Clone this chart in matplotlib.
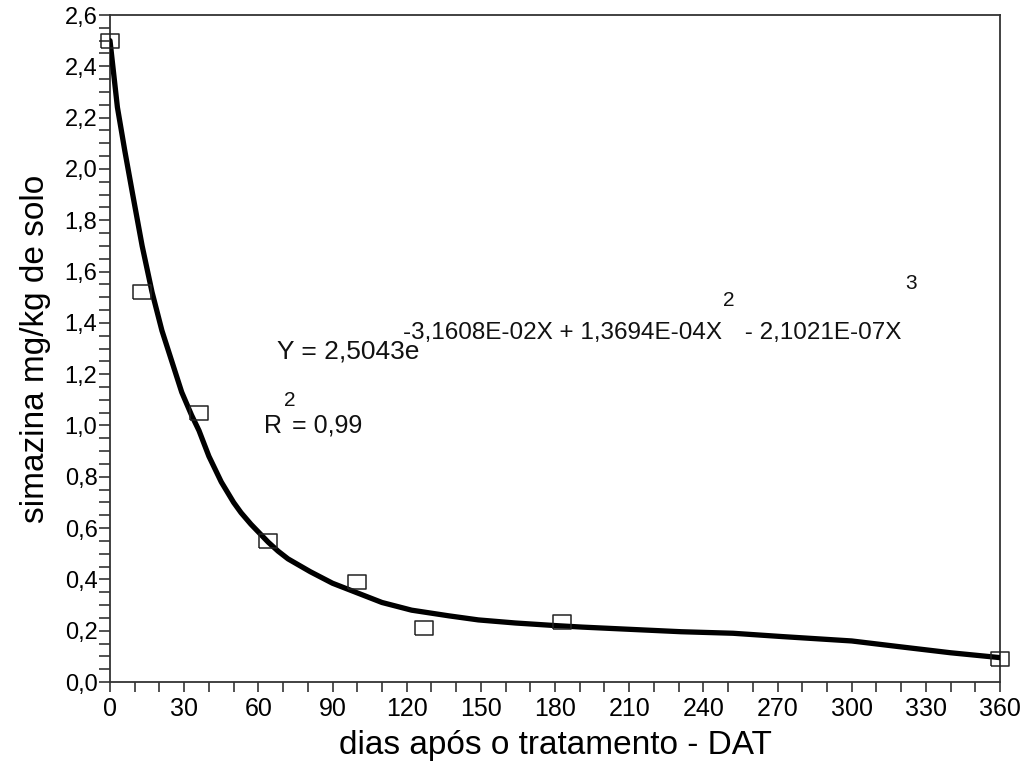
import matplotlib
matplotlib.use('Agg')
import matplotlib.pyplot as plt
from matplotlib.ticker import MultipleLocator, FuncFormatter

plt.rcParams['font.family'] = ['Liberation Sans', 'DejaVu Sans']

# observed points (days after treatment, simazine mg/kg soil)
obs_days = [0, 13, 36, 64, 100, 127, 183, 360]
obs_vals = [2.50, 1.52, 1.05, 0.55, 0.39, 0.21, 0.235, 0.09]

# fitted curve
fit_days = [0, 3, 6, 9, 13, 17, 21, 25, 29, 33, 36, 40, 45, 50, 53, 57, 60, 64, 68, 72,
            81, 90, 98, 110, 122, 137, 149, 164, 180, 191, 211, 231, 252, 272, 300,
            319, 340, 360]
fit_vals = [2.50, 2.24, 2.07, 1.91, 1.70, 1.52, 1.37, 1.25, 1.13, 1.04, 0.98, 0.88,
            0.78, 0.70, 0.66, 0.615, 0.585, 0.545, 0.51, 0.48, 0.43, 0.385, 0.355,
            0.31, 0.28, 0.258, 0.242, 0.23, 0.22, 0.214, 0.205, 0.196, 0.19, 0.177,
            0.16, 0.138, 0.114, 0.095]

x_ticks = list(range(0, 361, 30))
y_ticks = [0.0, 0.2, 0.4, 0.6, 0.8, 1.0, 1.2, 1.4, 1.6, 1.8, 2.0, 2.2, 2.4, 2.6]

W, H = 1027, 769
fig = plt.figure(figsize=(W / 100, H / 100), dpi=100)
ax = fig.add_axes([110 / W, 1 - 682 / H, 890 / W, 667 / H])

ax.plot(fit_days, fit_vals, color='black', lw=3.8, solid_joinstyle='round',
        solid_capstyle='round', zorder=3)
rect = [(-1.3, -1), (1.3, -1), (1.3, 1), (-1.3, 1), (-1.3, -1)]
ax.plot(obs_days, obs_vals, linestyle='none', marker=rect, markersize=12.5,
        markerfacecolor='none', markeredgecolor='#222222', markeredgewidth=1.1,
        clip_on=False, zorder=4)

ax.set_xlim(0, 360)
ax.set_ylim(0, 2.6)
ax.set_xticks(x_ticks)
ax.set_yticks(y_ticks)
ax.xaxis.set_minor_locator(MultipleLocator(10))
ax.yaxis.set_minor_locator(MultipleLocator(0.05))
ax.yaxis.set_major_formatter(FuncFormatter(lambda v, p: f'{v:.1f}'.replace('.', ',')))
ax.tick_params(axis='both', which='both', direction='out', color='#333333', width=1.2)
ax.tick_params(axis='y', which='both', length=8, labelsize=17, pad=1)
ax.tick_params(axis='x', which='both', length=7, labelsize=18, pad=4)
for s in ax.spines.values():
    s.set_color('#333333')
    s.set_linewidth(1.3)

ax.set_xlabel('dias após o tratamento - DAT', fontsize=24, labelpad=6)
ax.set_ylabel('simazina mg/kg de solo', fontsize=24, labelpad=10)

# equation text, placed in figure pixels
def ftext(px, py, s, size=18, **kw):
    fig.text(px / W, 1 - py / H, s, fontsize=size, color='#111111', **kw)

ftext(277, 352, 'Y = 2,5043e', size=19, va='center')
ftext(403, 333, '-3,1608E-02X + 1,3694E-04X', size=17.5, va='center')
ftext(723, 300, '2', size=15, va='center')
ftext(738, 333, ' - 2,1021E-07X', size=17.5, va='center')
ftext(905, 284, '3', size=15, va='center')
ftext(264, 426, 'R', va='center')
ftext(284, 401, '2', size=15, va='center')
ftext(292, 426, '= 0,99', va='center')

fig.savefig('out.png', dpi=100, facecolor='white')
